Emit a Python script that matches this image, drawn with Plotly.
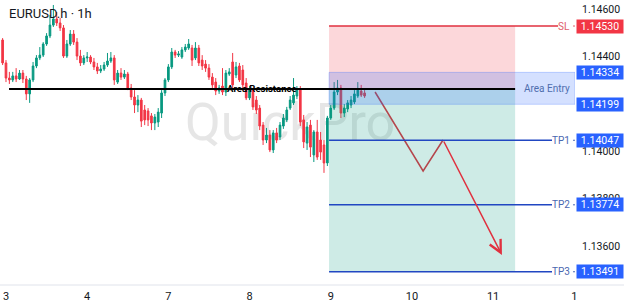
import plotly.graph_objects as go

# ---- data -------------------------------------------------------------
hours = list(range(-1, 107))  # hourly candle index, 0 = first candle of day "3"

open_ = [
    1.14471, 1.14374, 1.14310, 1.14302, 1.14319, 1.14306, 1.14331, 1.14306, 1.14243, 1.14302, 1.14361, 1.14395,
    1.14407, 1.14454, 1.14488, 1.14534, 1.14560, 1.14543, 1.14522, 1.14403, 1.14454, 1.14496, 1.14462, 1.14403,
    1.14374, 1.14395, 1.14399, 1.14378, 1.14357, 1.14340, 1.14348, 1.14365, 1.14382, 1.14395, 1.14293, 1.14331,
    1.14314, 1.14327, 1.14268, 1.14230, 1.14196, 1.14217, 1.14175, 1.14171, 1.14150, 1.14120, 1.14124, 1.14162,
    1.14247, 1.14302, 1.14357, 1.14420, 1.14407, 1.14399, 1.14429, 1.14437, 1.14437, 1.14395, 1.14437, 1.14386,
    1.14369, 1.14352, 1.14314, 1.14293, 1.14255, 1.14276, 1.14251, 1.14327, 1.14378, 1.14323, 1.14361, 1.14344,
    1.14289, 1.14226, 1.14259, 1.14217, 1.14183, 1.14111, 1.14048, 1.14069, 1.14006, 1.14078, 1.14061, 1.14107,
    1.14133, 1.14183, 1.14205, 1.14234, 1.14264, 1.14133, 1.14035, 1.14111, 1.13985, 1.14082, 1.14048, 1.14027,
    1.13951, 1.14141, 1.14183, 1.14251, 1.14268, 1.14162, 1.14179, 1.14196, 1.14209, 1.14234, 1.14255, 1.14247,
]
high = [
    1.14479, 1.14386, 1.14336, 1.14336, 1.14352, 1.14344, 1.14344, 1.14319, 1.14310, 1.14378, 1.14407, 1.14441,
    1.14462, 1.14500, 1.14577, 1.14619, 1.14589, 1.14564, 1.14534, 1.14471, 1.14513, 1.14513, 1.14479, 1.14429,
    1.14407, 1.14420, 1.14407, 1.14395, 1.14374, 1.14365, 1.14378, 1.14416, 1.14420, 1.14407, 1.14344, 1.14352,
    1.14344, 1.14336, 1.14285, 1.14259, 1.14238, 1.14226, 1.14196, 1.14183, 1.14162, 1.14158, 1.14183, 1.14259,
    1.14310, 1.14369, 1.14437, 1.14429, 1.14424, 1.14441, 1.14454, 1.14475, 1.14450, 1.14462, 1.14450, 1.14407,
    1.14386, 1.14369, 1.14331, 1.14310, 1.14281, 1.14352, 1.14344, 1.14352, 1.14416, 1.14378, 1.14374, 1.14365,
    1.14310, 1.14276, 1.14268, 1.14234, 1.14196, 1.14124, 1.14099, 1.14090, 1.14090, 1.14099, 1.14124, 1.14158,
    1.14188, 1.14234, 1.14310, 1.14276, 1.14276, 1.14154, 1.14124, 1.14133, 1.14090, 1.14133, 1.14082, 1.14048,
    1.14150, 1.14196, 1.14293, 1.14302, 1.14281, 1.14200, 1.14217, 1.14234, 1.14259, 1.14293, 1.14281, 1.14259,
]
low = [
    1.14365, 1.14293, 1.14285, 1.14293, 1.14293, 1.14302, 1.14289, 1.14217, 1.14205, 1.14293, 1.14352, 1.14386,
    1.14399, 1.14446, 1.14479, 1.14526, 1.14530, 1.14509, 1.14395, 1.14395, 1.14446, 1.14450, 1.14386, 1.14361,
    1.14365, 1.14378, 1.14369, 1.14344, 1.14327, 1.14331, 1.14340, 1.14357, 1.14374, 1.14281, 1.14285, 1.14302,
    1.14306, 1.14259, 1.14217, 1.14162, 1.14166, 1.14103, 1.14111, 1.14107, 1.14090, 1.14090, 1.14103, 1.14141,
    1.14234, 1.14293, 1.14348, 1.14395, 1.14399, 1.14391, 1.14420, 1.14429, 1.14361, 1.14386, 1.14361, 1.14344,
    1.14336, 1.14302, 1.14268, 1.14238, 1.14243, 1.14238, 1.14234, 1.14319, 1.14268, 1.14310, 1.14293, 1.14268,
    1.14217, 1.14217, 1.14175, 1.14158, 1.14090, 1.14027, 1.14035, 1.13997, 1.13993, 1.14035, 1.14048, 1.14095,
    1.14124, 1.14175, 1.14196, 1.14221, 1.14107, 1.14014, 1.14006, 1.13976, 1.13955, 1.13964, 1.13964, 1.13909,
    1.13938, 1.14133, 1.14175, 1.14238, 1.14141, 1.14145, 1.14166, 1.14183, 1.14200, 1.14226, 1.14230, 1.14226,
]
close = [
    1.14374, 1.14310, 1.14302, 1.14319, 1.14306, 1.14331, 1.14306, 1.14243, 1.14302, 1.14361, 1.14395, 1.14407,
    1.14454, 1.14488, 1.14534, 1.14560, 1.14543, 1.14522, 1.14403, 1.14454, 1.14496, 1.14462, 1.14403, 1.14374,
    1.14395, 1.14399, 1.14378, 1.14357, 1.14340, 1.14348, 1.14365, 1.14382, 1.14395, 1.14302, 1.14331, 1.14314,
    1.14327, 1.14268, 1.14230, 1.14196, 1.14217, 1.14128, 1.14133, 1.14133, 1.14120, 1.14145, 1.14166, 1.14247,
    1.14302, 1.14357, 1.14420, 1.14407, 1.14412, 1.14429, 1.14441, 1.14454, 1.14386, 1.14437, 1.14374, 1.14361,
    1.14352, 1.14314, 1.14281, 1.14255, 1.14268, 1.14251, 1.14331, 1.14336, 1.14281, 1.14357, 1.14302, 1.14281,
    1.14226, 1.14259, 1.14188, 1.14175, 1.14107, 1.14048, 1.14069, 1.14006, 1.14078, 1.14048, 1.14111, 1.14141,
    1.14175, 1.14217, 1.14238, 1.14264, 1.14124, 1.14040, 1.14103, 1.14018, 1.14082, 1.13976, 1.13997, 1.13951,
    1.14141, 1.14183, 1.14251, 1.14268, 1.14162, 1.14183, 1.14205, 1.14217, 1.14243, 1.14259, 1.14238, 1.14234,
]

day_ticks = [0, 24, 48, 72, 96, 120, 144, 168]
day_labels = ["3", "4", "7", "8", "9", "10", "11", "1"]
price_ticks = [1.136, 1.138, 1.140, 1.142, 1.144, 1.146]

x_range = [-1.77, 168.2]
y_range = [1.13435, 1.14640]

resistance = 1.14264
resistance_start = 0.9
entry_level = 1.14264
sl_level = 1.14530
entry_top = 1.14334
entry_bottom = 1.14199
tp_levels = [1.14047, 1.13774, 1.13491]
tp_names = ["TP1", "TP2", "TP3"]
zone_start = 95.5
zone_end = 150.5
sl_line_end = 163.2
tp_line_end = 161.4

arrow_x = [109.1, 123.3, 129.2, 146.6]
arrow_y = [1.14251, 1.13917, 1.14048, 1.13562]

# ---- styles -----------------------------------------------------------
GREEN = "#089981"
RED = "#F23645"
BLUE = "#2962FF"
TP_LINE = "#2147C2"
SL_LINE = "#E0313F"
TXT = "#131722"
FONT = "Roboto"

fig = go.Figure()

fig.add_trace(go.Candlestick(
    x=hours, open=open_, high=high, low=low, close=close,
    increasing=dict(line=dict(color=GREEN, width=1), fillcolor=GREEN),
    decreasing=dict(line=dict(color=RED, width=1), fillcolor=RED),
    hoverinfo="skip", showlegend=False,
))

# arrow polyline (first segments), last segment with arrowhead
fig.add_trace(go.Scatter(
    x=arrow_x[:3], y=arrow_y[:3], mode="lines",
    line=dict(color=SL_LINE, width=1.5), hoverinfo="skip", showlegend=False,
))

shapes = []
# watermark
shapes.append(dict(
    type="rect", xref="x", yref="y", x0=50, x1=118, y0=1.1400, y1=1.1428,
    line=dict(width=0), fillcolor="rgba(0,0,0,0)", layer="below",
    label=dict(text="QuickPro", font=dict(size=52, color="#E6E6E6", family=FONT),
               textposition="middle center"),
))
# risk / reward zones
shapes.append(dict(type="rect", xref="x", yref="y", x0=zone_start, x1=zone_end,
                   y0=entry_level, y1=sl_level, fillcolor="rgba(242,54,69,0.2)",
                   line=dict(width=0), layer="above"))
shapes.append(dict(type="rect", xref="x", yref="y", x0=zone_start, x1=zone_end,
                   y0=tp_levels[-1], y1=entry_level, fillcolor="rgba(8,153,129,0.2)",
                   line=dict(width=0), layer="above"))
# area entry box
shapes.append(dict(type="rect", xref="x", yref="y", x0=zone_start, x1=x_range[1],
                   y0=entry_bottom, y1=entry_top, fillcolor="rgba(41,98,255,0.2)",
                   line=dict(width=1, color="rgba(41,98,255,0.25)"), layer="above"))
# resistance line
shapes.append(dict(type="line", xref="x", yref="y", x0=resistance_start, x1=zone_end,
                   y0=resistance, y1=resistance, line=dict(color="#000000", width=2),
                   layer="above"))
# SL line
shapes.append(dict(type="line", xref="x", yref="y", x0=zone_start, x1=sl_line_end,
                   y0=sl_level, y1=sl_level, line=dict(color=SL_LINE, width=1.5),
                   layer="above"))
shapes.append(dict(type="line", xref="paper", yref="y", x0=0.9965, x1=1.0,
                   y0=sl_level, y1=sl_level, line=dict(color="#E0606A", width=1),
                   layer="above"))
# TP lines
for lvl in tp_levels:
    shapes.append(dict(type="line", xref="x", yref="y", x0=zone_start, x1=tp_line_end,
                       y0=lvl, y1=lvl, line=dict(color=TP_LINE, width=1.5), layer="above"))
    shapes.append(dict(type="line", xref="paper", yref="y", x0=0.9965, x1=1.0,
                       y0=lvl, y1=lvl, line=dict(color="#4A67B0", width=1), layer="above"))
# bottom border extended under price scale
shapes.append(dict(type="line", xref="paper", yref="paper", x0=0, x1=624 / 575,
                   y0=0, y1=0, line=dict(color="#E0E3EB", width=1), layer="above"))

annotations = []
annotations.append(dict(
    text="EURUSD.h · 1h", xref="paper", yref="paper", x=0.012, y=0.951,
    xanchor="left", yanchor="middle", showarrow=False,
    font=dict(size=13, color=TXT, family=FONT),
))
annotations.append(dict(
    text="<b>Area Resistance</b>", xref="x", yref="y", x=75.7, y=resistance,
    xanchor="center", yanchor="middle", showarrow=False,
    font=dict(size=9.5, color="#000000", family=FONT),
))
annotations.append(dict(
    text="Area Entry", xref="paper", yref="y", x=0.9948, y=(entry_top + entry_bottom) / 2,
    xanchor="right", yanchor="middle", showarrow=False,
    font=dict(size=10, color="#4F6EAE", family=FONT),
))
annotations.append(dict(
    text="SL", xref="paper", yref="y", x=0.9948, y=sl_level,
    xanchor="right", yanchor="middle", showarrow=False,
    font=dict(size=10, color="#E0606A", family=FONT),
))
for name, lvl in zip(tp_names, tp_levels):
    annotations.append(dict(
        text=name, xref="paper", yref="y", x=0.9948, y=lvl,
        xanchor="right", yanchor="middle", showarrow=False,
        font=dict(size=10, color="#4A67B0", family=FONT),
    ))

# price boxes on the scale
price_boxes = [(sl_level, RED), (entry_top, BLUE), (entry_bottom, BLUE)] + [(l, BLUE) for l in tp_levels]
for lvl, col in price_boxes:
    annotations.append(dict(
        text=f"{lvl:.5f}", xref="paper", yref="y", x=1.0, y=lvl, xshift=1,
        xanchor="left", yanchor="middle", showarrow=False,
        bgcolor=col, width=44, height=11, borderpad=1,
        font=dict(size=10.5, color="#FFFFFF", family=FONT),
    ))

# arrowhead segment
annotations.append(dict(
    x=arrow_x[3], y=arrow_y[3], ax=arrow_x[2], ay=arrow_y[2],
    xref="x", yref="y", axref="x", ayref="y", text="", showarrow=True,
    arrowhead=5, arrowsize=1.6, arrowwidth=1.5, arrowcolor=SL_LINE, standoff=0,
))

fig.update_layout(
    width=624, height=307, autosize=False,
    margin=dict(l=0, r=49, t=0, b=22),
    paper_bgcolor="#FFFFFF", plot_bgcolor="#FFFFFF",
    showlegend=False,
    shapes=shapes, annotations=annotations,
    font=dict(family=FONT, color=TXT),
    xaxis=dict(
        range=x_range, tickvals=day_ticks, ticktext=day_labels,
        showgrid=False, zeroline=False, showline=False, ticks="",
        ticklabelstandoff=3,
        rangeslider=dict(visible=False), fixedrange=True,
        tickfont=dict(size=11, color=TXT, family=FONT),
    ),
    yaxis=dict(
        range=y_range, side="right", tickvals=price_ticks, tickformat=".5f",
        showgrid=False, zeroline=False, showline=False, ticks="",
        ticklabelstandoff=6, fixedrange=True,
        tickfont=dict(size=10.5, color=TXT, family=FONT),
    ),
)

fig.write_html("out.html")
